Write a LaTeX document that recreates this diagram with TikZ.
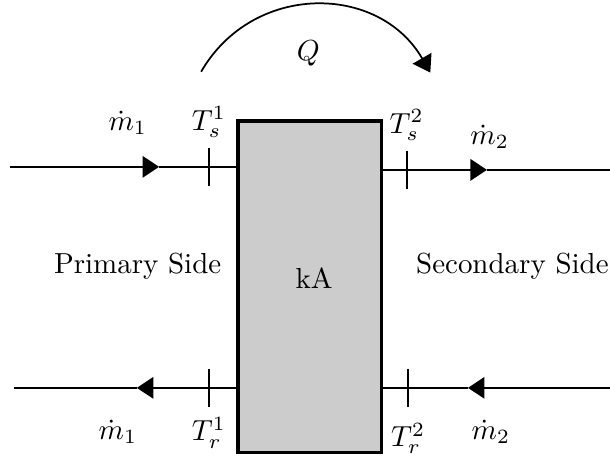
\documentclass[tikz,border=0pt]{standalone}
\usepackage{amsmath}
\usetikzlibrary{calc, arrows.meta}

\begin{document}
\begin{tikzpicture}[
		pipe/.style={semithick},
		flow/.style={semithick, -{Triangle[length=2mm, width=2.6mm]}},
		sensor/.style={semithick}
	]
		\useasboundingbox (-3.76,-2.06) rectangle (3.64,3.48);
		
		% --- HEAT EXCHANGER ---
		\node[draw, line width=1.2pt, fill=gray!40, minimum width=1.74cm, minimum height=4.02cm] (HX) at (0,0) {};
		\node (kA) at (0.05,0.1) {kA};
		
		% Heat flow
		\coordinate (Qa) at (-1.32,2.61);
		\coordinate (Qb) at (1.46,2.60);
		\draw[flow] (Qa) to[out=60, in=120, looseness=1.15] (Qb);
		\node (Q) at (-0.02,2.83) {$Q$};
		
		% --- PRIMARY SIDE ---
		\coordinate (P1in) at (-3.64,1.456);
		\coordinate (P1arr) at (-1.83,1.456);
		\coordinate (P1out) at (-3.59,-1.225);
		\coordinate (P1rarr) at (-2.10,-1.225);
		
		\draw[flow] (P1in) -- (P1arr);
		\draw[pipe] (P1arr) -- (P1arr -| HX.west);
		\draw[flow] (HX.west |- P1out) -- (P1rarr);
		\draw[pipe] (P1rarr) -- (P1out);
		
		% Sensors
		\coordinate (S1s) at (-1.225,1.456);
		\coordinate (S1r) at (-1.225,-1.225);
		\draw[sensor] ($(S1s)+(0,.23)$) node[above] (Ts1) {$T_s^1$} -- ($(S1s)-(0,.23)$);
		\draw[sensor] ($(S1r)+(0,.23)$) -- ($(S1r)-(0,.23)$) node[below] (Tr1) {$T_r^1$};
		
		\node (m1s) at (-2.21,1.99) {$\dot{m}_1$};
		\node (m1r) at (-2.33,-1.76) {$\dot{m}_1$};
		\node (prim) at (-2.09,0.25) {Primary Side};
		
		% --- SECONDARY SIDE ---
		\coordinate (P2out) at (3.64,1.419);
		\coordinate (P2arr) at (2.147,1.419);
		\coordinate (P2in) at (3.64,-1.225);
		\coordinate (P2rarr) at (1.917,-1.225);
		
		\draw[flow] (HX.east |- P2out) -- (P2arr);
		\draw[pipe] (P2arr) -- (P2out);
		\draw[flow] (P2in) -- (P2rarr);
		\draw[pipe] (P2rarr) -- (P2rarr -| HX.east);
		
		% Sensors
		\coordinate (S2s) at (1.173,1.419);
		\coordinate (S2r) at (1.19,-1.225);
		\draw[sensor] ($(S2s)+(0,.23)$) node[above] (Ts2) {$T_s^2$} -- ($(S2s)-(0,.23)$);
		\draw[sensor] ($(S2r)+(0,.23)$) -- ($(S2r)-(0,.23)$) node[below=2pt] (Tr2) {$T_r^2$};
		
		\node (m2s) at (2.18,1.82) {$\dot{m}_2$};
		\node (m2r) at (2.195,-1.76) {$\dot{m}_2$};
		\node (sec) at (2.456,0.255) {Secondary Side};
		
	\end{tikzpicture}
\end{document}
